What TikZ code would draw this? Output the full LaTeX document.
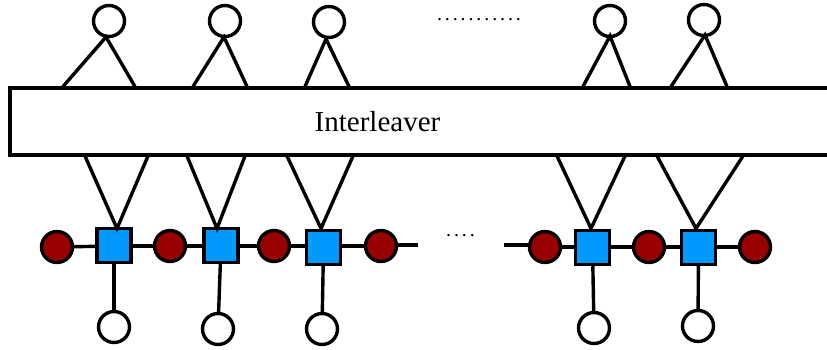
\documentclass[tikz,border=0pt]{standalone}
\usepackage{fontspec}
\setmainfont{Liberation Serif}
\newfontfamily\dotfont[LetterSpace=14.5]{Liberation Serif}
\definecolor{vred}{RGB}{153,0,0}
\definecolor{cblue}{RGB}{0,153,255}
\begin{document}
\begin{tikzpicture}[x=1pt,y=-1pt,line width=3.4pt,
  vnode/.style={circle,draw=black,fill=white,minimum size=31pt,inner sep=0pt},
  rnode/.style={circle,draw=black,fill=vred,minimum size=31pt,inner sep=0pt},
  cnode/.style={rectangle,draw=black,fill=cblue,minimum size=34pt,inner sep=0pt},
  dots/.style={anchor=base,inner sep=0pt,font=\dotfont\fontsize{20}{20}\selectfont},
  edge/.style={draw=black,line width=3.4pt}]
\useasboundingbox (0,0) rectangle (827,349);
% interleaver box (open on the right, cut by the picture edge)
\coordinate (BTR) at (827,88);
\coordinate (BBR) at (827,155);
\draw[line width=3.6pt] (BTR) -| (10,155) -- (BBR);
\node (IL) at (377.5,121.5) {\fontsize{29}{34}\selectfont Interleaver};
% top variable nodes
\foreach \n/\x/\y/\ax/\ay/\lx/\rx in {1/109/21/106/37/63/135, 2/225/21/224/37/193/247, 3/329/22/326/39/305/349, 4/610/21/610/36/583/630, 5/704/20/705/35/671/727}{
  \node[vnode] (T\n) at (\x,\y) {};
  \coordinate (TA\n) at (\ax,\ay);
  \coordinate (TL\n) at (\lx,86.5);
  \coordinate (TR\n) at (\rx,86.5);
  \draw[edge] (TL\n) -- (TA\n) -- (TR\n);
}
\node[dots] (TD) at (479,20) {...........};
% chain: red circles and blue squares
\node[rnode] (R1) at (57,247) {};
\node[rnode] (R2) at (170,246) {};
\node[rnode] (R3) at (274,246) {};
\node[rnode] (R4) at (381,246) {};
\node[rnode] (R5) at (545,247) {};
\node[rnode] (R6) at (649,247) {};
\node[rnode] (R7) at (755,247) {};
\coordinate (E4) at (418,245);
\coordinate (E5) at (504,245);
\draw[edge] (R1) -- (114,246);
\draw[edge] (114,246) -- (R2);
\draw[edge] (R2) -- (221,246) -- (R3) -- (323,246) -- (R4);
\draw[edge] (R4.east |- E4) -- (E4);
\draw[edge] (E5) -- (R5.west |- E5);
\draw[edge] (R5) -- (592,247) -- (R6) -- (698,247) -- (R7);
\node[cnode] (S1) at (114,245.5) {};
\node[cnode] (S2) at (221,245.5) {};
\node[cnode] (S3) at (323.5,247.5) {};
\node[cnode] (S4) at (592.5,247.5) {};
\node[cnode] (S5) at (698.5,247.5) {};
\node[dots] (BD) at (460.5,236) {....};
% V connectors from interleaver to squares
\foreach \n/\ax/\lx/\rx in {1/117/85/148, 2/217/187/245, 3/321/287/353, 4/591/557/625, 5/696/657/743}{
  \coordinate (VA\n) at (\ax,228.5);
  \coordinate (VL\n) at (\lx,156);
  \coordinate (VR\n) at (\rx,156);
  \draw[edge] (VL\n) -- (VA\n) -- (VR\n);
}
% bottom variable nodes
\node[vnode] (B1) at (114,327) {};
\node[vnode] (B2) at (218,329) {};
\node[vnode] (B3) at (322,329) {};
\node[vnode] (B4) at (594,328) {};
\node[vnode] (B5) at (698,326) {};
\draw[edge] (S1) -- (B1);
\draw[edge] (S2) -- (B2);
\draw[edge] (S3) -- (B3);
\draw[edge] (S4) -- (B4);
\draw[edge] (S5) -- (B5);
\end{tikzpicture}
\end{document}
